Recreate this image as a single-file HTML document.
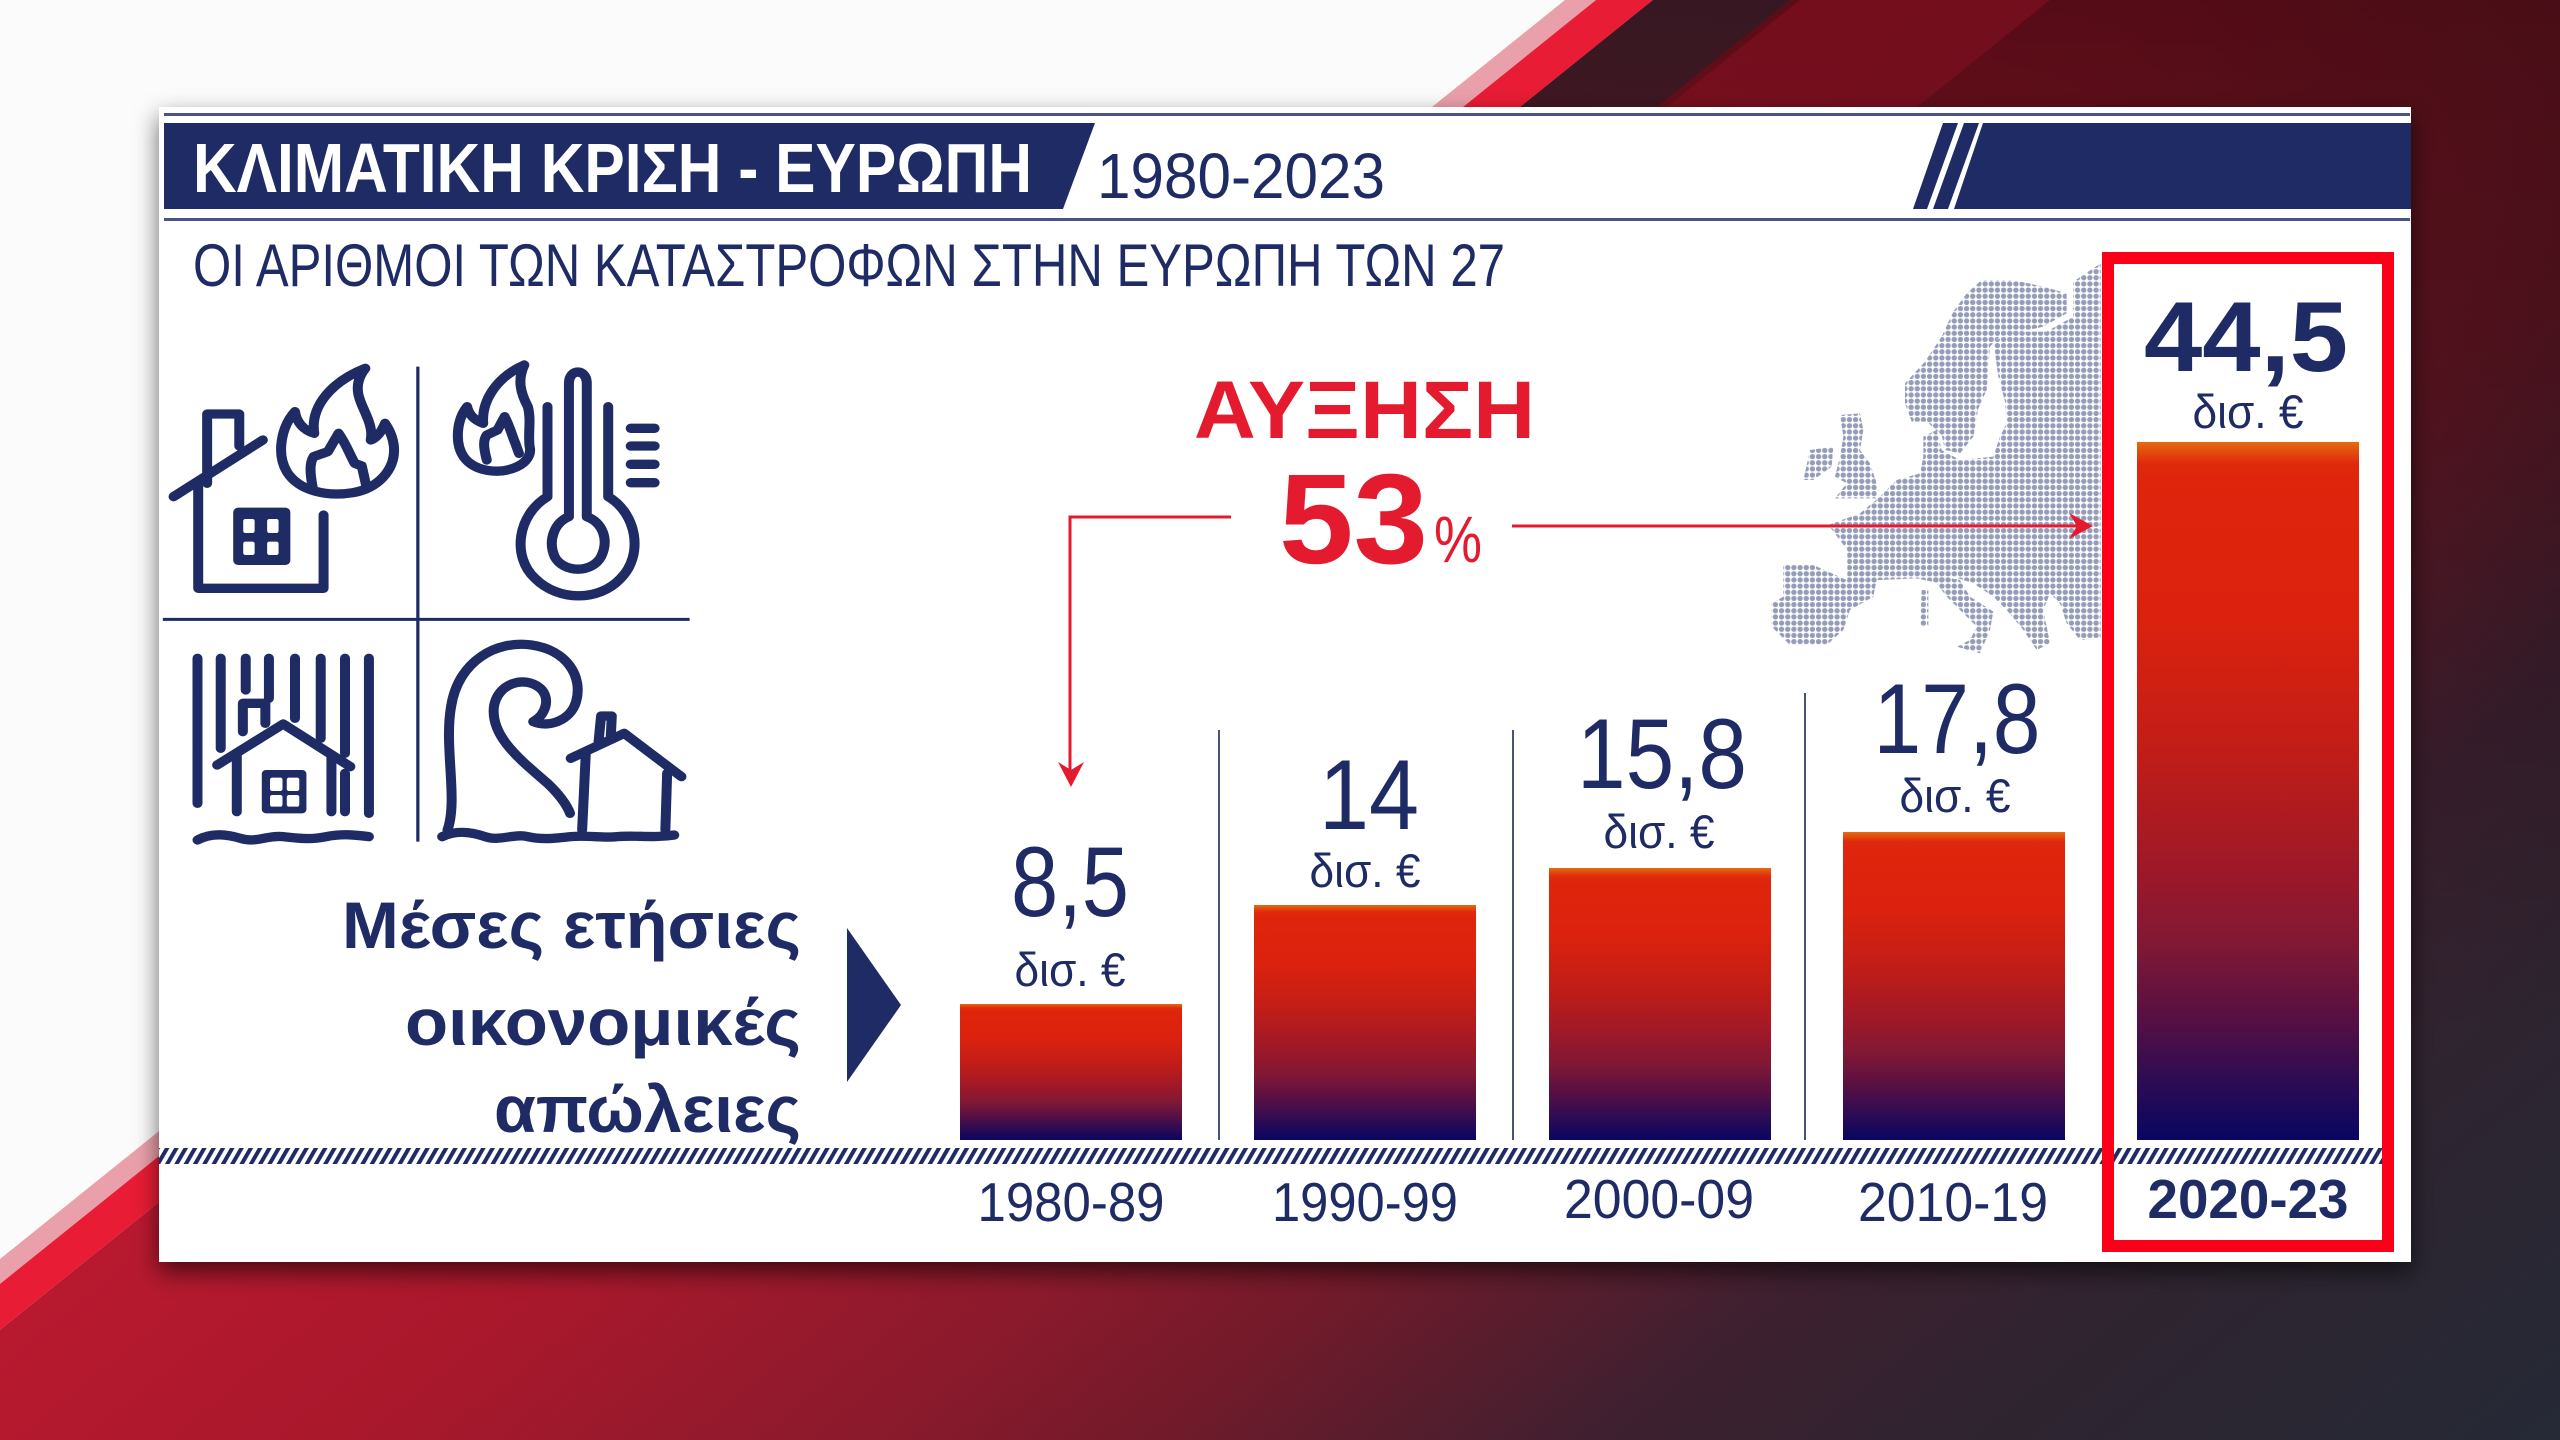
<!DOCTYPE html>
<html><head><meta charset="utf-8">
<style>
html,body{margin:0;padding:0;background:#fafafa;}
svg{display:block;}
text{font-family:"Liberation Sans","DejaVu Sans",sans-serif;}
</style></head>
<body>
<svg width="2560" height="1440" viewBox="0 0 2560 1440" xmlns="http://www.w3.org/2000/svg">
<defs>
  <linearGradient id="bgBase" gradientUnits="userSpaceOnUse" x1="421" y1="-347" x2="2139" y2="1787">
    <stop offset="0" stop-color="#c0192f"/>
    <stop offset="0.38" stop-color="#b8192f"/>
    <stop offset="0.5" stop-color="#a8182c"/>
    <stop offset="0.61" stop-color="#8a1a2c"/>
    <stop offset="0.67" stop-color="#741a2a"/>
    <stop offset="0.777" stop-color="#3e2030"/>
    <stop offset="0.865" stop-color="#2e2430"/>
    <stop offset="1" stop-color="#252a36"/>
  </linearGradient>
  <linearGradient id="bgShade" gradientUnits="userSpaceOnUse" x1="0" y1="0" x2="0" y2="1050">
    <stop offset="0" stop-color="#000" stop-opacity="0.5"/>
    <stop offset="1" stop-color="#000" stop-opacity="0"/>
  </linearGradient>
  <linearGradient id="darkBand" gradientUnits="userSpaceOnUse" x1="0" y1="0" x2="0" y2="800">
    <stop offset="0" stop-color="#2a1c26" stop-opacity="0.75"/>
    <stop offset="1" stop-color="#2a1c26" stop-opacity="0"/>
  </linearGradient>
  <linearGradient id="maroonBand" gradientUnits="userSpaceOnUse" x1="0" y1="0" x2="0" y2="700">
    <stop offset="0" stop-color="#8a0f22" stop-opacity="0.55"/>
    <stop offset="1" stop-color="#8a0f22" stop-opacity="0"/>
  </linearGradient>
  <linearGradient id="barG" x1="0" y1="0" x2="0" y2="1">
    <stop offset="0" stop-color="#e46c10"/>
    <stop offset="0.03" stop-color="#e02a0c"/>
    <stop offset="0.06" stop-color="#df240c"/>
    <stop offset="0.25" stop-color="#dc220e"/>
    <stop offset="0.45" stop-color="#c01d18"/>
    <stop offset="0.62" stop-color="#9c1829"/>
    <stop offset="0.72" stop-color="#801834"/>
    <stop offset="0.82" stop-color="#5a1042"/>
    <stop offset="0.91" stop-color="#300c52"/>
    <stop offset="1" stop-color="#080662"/>
  </linearGradient>
  <pattern id="hatch" patternUnits="userSpaceOnUse" width="9.3" height="40" patternTransform="skewX(-30)">
    <rect x="0" y="0" width="4.6" height="40" fill="#1f2b65"/>
  </pattern>
  <pattern id="dots" patternUnits="userSpaceOnUse" width="18.5" height="18.5">
    <circle cx="9.25" cy="9.25" r="8" fill="#959cb8"/>
  </pattern>
  <filter id="shadow" x="-5%" y="-5%" width="110%" height="115%">
    <feDropShadow dx="0" dy="10" stdDeviation="12" flood-color="#000" flood-opacity="0.6"/>
  </filter>
</defs>

<!-- background -->
<rect x="0" y="0" width="2560" height="1440" fill="#fbfbfb"/>
<polygon points="1653,0 2560,0 2560,1440 -137,1440" fill="url(#bgBase)"/>
<polygon points="1653,0 2560,0 2560,1440 -137,1440" fill="url(#bgShade)"/>
<polygon points="1653,0 1790,0 795,800 658,800" fill="url(#darkBand)"/>
<polygon points="1800,0 2050,0 1180,700 930,700" fill="url(#maroonBand)"/>
<polygon points="1565,0 1596,0 -194,1440 -225,1440" fill="#eaa0aa"/>
<polygon points="1596,0 1653,0 -137,1440 -194,1440" fill="#e81c34"/>

<!-- card -->
<rect x="159" y="107" width="2252" height="1155" fill="#ffffff" filter="url(#shadow)"/>

<!-- header -->
<rect x="164" y="113" width="2246" height="3" fill="#4a5288"/>
<polygon points="164,123 1095,123 1063,209 164,209" fill="#1f2b65"/>
<text x="193" y="192" font-size="70" font-weight="bold" fill="#ffffff" textLength="839" lengthAdjust="spacingAndGlyphs">ΚΛΙΜΑΤΙΚΗ ΚΡΙΣΗ - ΕΥΡΩΠΗ</text>
<text x="1097" y="198" font-size="64" fill="#1f2b65" textLength="288" lengthAdjust="spacingAndGlyphs">1980-2023</text>
<polygon points="1943,123 1958,123 1927,209 1913,209" fill="#1f2b65"/>
<polygon points="1964,123 1979,123 1948,209 1933,209" fill="#1f2b65"/>
<polygon points="1983,123 2411,123 2411,209 1954,209" fill="#1f2b65"/>
<rect x="164" y="218" width="2246" height="3" fill="#4a5288"/>
<text x="193" y="286" font-size="60" fill="#1f2b65" textLength="1312" lengthAdjust="spacingAndGlyphs">ΟΙ ΑΡΙΘΜΟΙ ΤΩΝ ΚΑΤΑΣΤΡΟΦΩΝ ΣΤΗΝ ΕΥΡΩΠΗ ΤΩΝ 27</text>

<!-- icons -->
<g transform="translate(160,340) scale(0.35714,0.33333)" stroke="#1f2b65" stroke-width="28" fill="none" stroke-linecap="round" stroke-linejoin="round">
  <line x1="722" y1="80" x2="722" y2="1505" stroke-width="9" stroke-linecap="butt"/>
  <line x1="8" y1="838" x2="1483" y2="838" stroke-width="9" stroke-linecap="butt"/>
  <!-- icon 1 -->
  <path d="M132,430 L132,222 L222,222 L222,318"/>
  <path d="M38,470 L288,300"/>
  <path d="M107,440 L107,745 L458,745 L458,525"/>
  <rect x="205" y="503" width="160" height="172" rx="14" fill="#1f2b65" stroke="none"/>
  <g fill="#fff" stroke="none">
    <rect x="233" y="537" width="32" height="42" rx="6"/><rect x="300" y="537" width="32" height="42" rx="6"/>
    <rect x="233" y="605" width="32" height="40" rx="6"/><rect x="300" y="605" width="32" height="40" rx="6"/>
  </g>
  <path d="M575,85 C480,125 420,200 432,280 C400,270 382,245 378,215 C340,260 325,340 355,395 C390,455 470,470 540,458 C610,445 660,390 655,320 C652,290 642,268 630,250 C618,280 605,295 590,300 C600,250 560,200 555,160 C550,130 560,105 575,85 Z"/>
  <path d="M428,445 C420,400 418,370 430,350 L470,335 L500,280 C520,310 530,340 545,370 L565,378 L578,440"/>
  <!-- icon 2 -->
  <path d="M1020,75 C945,110 900,180 905,250 C880,240 865,225 860,200 C830,240 825,310 850,350 C880,395 950,405 1000,380 C1030,365 1040,340 1035,320 C1030,280 1040,240 1030,200 C1010,160 1000,120 1020,75 Z"/>
  <path d="M915,360 C905,320 905,300 915,285 L945,270 L965,230 C980,260 985,285 995,310 L1005,340"/>
  <path d="M1085,200 L1085,470 C1000,525 985,650 1050,715 C1115,785 1230,785 1290,715 C1355,645 1335,520 1255,470 L1255,200"/>
  <path d="M1145,530 L1145,130 C1145,85 1195,85 1195,130 L1195,530 C1240,548 1258,600 1235,650 C1210,700 1130,700 1105,650 C1085,600 1105,548 1145,530 Z"/>
  <path d="M1318,265 L1385,265 M1318,318 L1385,318 M1318,373 L1385,373 M1318,428 L1385,428"/>
  <!-- icon 3 -->
  <path d="M105,955 L105,1390 M170,955 L170,1225 M240,955 L240,1050 M305,955 L305,1075 M378,955 L378,1135 M450,955 L450,1195 M518,955 L518,1240 M585,955 L585,1420 M518,1300 L518,1415"/>
  <path d="M232,1175 L232,1090 L295,1090 L295,1150"/>
  <path d="M160,1275 L345,1152 L533,1280"/>
  <path d="M215,1245 L215,1415 M480,1245 L480,1415"/>
  <rect x="285" y="1290" width="125" height="130" rx="12" fill="#1f2b65" stroke="none"/>
  <g fill="#fff" stroke="none">
    <rect x="308" y="1313" width="35" height="40" rx="6"/><rect x="355" y="1313" width="35" height="40" rx="6"/>
    <rect x="308" y="1365" width="35" height="35" rx="6"/><rect x="355" y="1365" width="35" height="35" rx="6"/>
  </g>
  <path d="M105,1500 C140,1480 180,1480 225,1495 C270,1510 300,1485 345,1490 C390,1495 420,1500 465,1490 C510,1480 550,1485 585,1490"/>
  <!-- icon 4 -->
  <path d="M805,1470 C835,1380 795,1220 815,1100 C835,960 945,900 1040,915 C1140,930 1185,1010 1165,1085 C1150,1140 1090,1165 1045,1145 C1080,1125 1095,1075 1065,1045 C1020,1005 945,1030 935,1100 C925,1190 1010,1260 1085,1330 C1115,1360 1140,1395 1148,1420"/>
  <path d="M1228,1205 L1235,1128 L1265,1128 L1262,1195"/>
  <path d="M1150,1255 L1300,1180 L1460,1310"/>
  <path d="M1192,1245 L1182,1470 M1420,1300 L1415,1470"/>
  <path d="M790,1490 C830,1470 870,1475 910,1490 C950,1505 990,1480 1030,1490 C1070,1500 1110,1495 1150,1490 C1200,1485 1240,1495 1280,1490 C1330,1485 1380,1495 1440,1485"/>
</g>

<!-- left caption -->
<g fill="#1f2b65" font-weight="bold" font-size="66" text-anchor="end">
  <text x="801" y="948" textLength="459" lengthAdjust="spacingAndGlyphs">Μέσες ετήσιες</text>
  <text x="801" y="1045" textLength="396" lengthAdjust="spacingAndGlyphs">οικονομικές</text>
  <text x="801" y="1132" textLength="307" lengthAdjust="spacingAndGlyphs">απώλειες</text>
</g>
<polygon points="847,928 901,1005 847,1082" fill="#1f2b65"/>

<!-- europe dot map -->
<g transform="translate(1760,250) scale(0.33333)" fill="url(#dots)">
  <polygon points="700,275 760,245 860,245 940,200 940,95 1022,40 1022,1165 960,1170 920,1120 900,1060 870,1030 850,1080 870,1180 830,1200 790,1140 740,1080 720,1060 700,1040 640,1000 580,980 540,1000 470,985 360,990 262,990 262,900 205,825 300,790 360,740 410,690 480,670 490,620 490,560 530,540 545,600 600,630 700,620 720,560 740,520 735,455 715,380"/>
  <polygon points="665,90 760,90 850,110 920,130 920,190 850,230 720,260 690,290 680,420 655,475 640,560 600,610 555,600 545,555 500,515 455,515 435,460 435,400 495,335 545,260 580,185 620,130"/>
  <polygon points="70,945 160,945 260,990 350,990 340,1040 270,1080 250,1140 200,1185 90,1185 35,1130 35,1060 70,1040"/>
  <polygon points="240,495 300,490 310,540 300,600 330,640 350,700 350,745 225,745 260,700 225,680 240,620 250,560"/>
  <polygon points="130,690 150,600 220,590 215,650 160,690"/>
  <polygon points="520,975 600,990 630,1040 700,1085 690,1140 660,1210 590,1190 630,1170 650,1130 600,1080 560,1040 530,1000"/>
  <polygon points="485,1020 505,1020 505,1130 480,1130"/>
</g>

<!-- annotation -->
<text x="1194" y="438" font-size="82" font-weight="bold" fill="#e41b2f" textLength="341" lengthAdjust="spacingAndGlyphs">ΑΥΞΗΣΗ</text>
<text x="1279" y="563" font-size="128" font-weight="bold" fill="#e41b2f" textLength="149" lengthAdjust="spacingAndGlyphs">53</text>
<text x="1434" y="562" font-size="66" fill="#e41b2f" textLength="48" lengthAdjust="spacingAndGlyphs">%</text>
<polyline points="1231,517 1070,517 1070,772" fill="none" stroke="#e41b2f" stroke-width="3"/>
<polygon points="1058,762 1071,770 1084,762 1071,787" fill="#e41b2f"/>
<line x1="1512" y1="526" x2="2078" y2="526" stroke="#e41b2f" stroke-width="3"/>
<polygon points="2069,513 2077,526 2069,539 2093,526" fill="#e41b2f"/>

<!-- dividers -->
<g stroke="#4a5275" stroke-width="2">
  <line x1="1219" y1="730" x2="1219" y2="1140"/>
  <line x1="1513" y1="730" x2="1513" y2="1140"/>
  <line x1="1805" y1="693" x2="1805" y2="1140"/>
</g>

<!-- bars -->
<rect x="960" y="1004" width="222" height="136" fill="url(#barG)"/>
<rect x="1254" y="905" width="222" height="235" fill="url(#barG)"/>
<rect x="1549" y="868" width="222" height="272" fill="url(#barG)"/>
<rect x="1843" y="832" width="222" height="308" fill="url(#barG)"/>
<rect x="2137" y="442" width="222" height="698" fill="url(#barG)"/>

<!-- hatch baseline -->
<rect x="159" y="1148" width="2224" height="16" fill="url(#hatch)"/>

<!-- values -->
<g fill="#1f2b65" font-size="99" text-anchor="middle">
  <text x="1070" y="916" textLength="118" lengthAdjust="spacingAndGlyphs">8,5</text>
  <text x="1369" y="829" textLength="100" lengthAdjust="spacingAndGlyphs">14</text>
  <text x="1662" y="788" textLength="170" lengthAdjust="spacingAndGlyphs">15,8</text>
  <text x="1957" y="753" textLength="167" lengthAdjust="spacingAndGlyphs">17,8</text>
  <text x="2246" y="371" font-weight="bold" textLength="204" lengthAdjust="spacingAndGlyphs">44,5</text>
</g>
<g fill="#1f2b65" font-size="47" text-anchor="middle">
  <text x="1070" y="986" textLength="111" lengthAdjust="spacingAndGlyphs">δισ. €</text>
  <text x="1365" y="887" textLength="111" lengthAdjust="spacingAndGlyphs">δισ. €</text>
  <text x="1659" y="848" textLength="111" lengthAdjust="spacingAndGlyphs">δισ. €</text>
  <text x="1955" y="812" textLength="111" lengthAdjust="spacingAndGlyphs">δισ. €</text>
  <text x="2248" y="428" textLength="111" lengthAdjust="spacingAndGlyphs">δισ. €</text>
</g>

<!-- year labels -->
<g fill="#1f2b65" font-size="55" text-anchor="middle">
  <text x="1071" y="1221" textLength="187" lengthAdjust="spacingAndGlyphs">1980-89</text>
  <text x="1365" y="1221" textLength="186" lengthAdjust="spacingAndGlyphs">1990-99</text>
  <text x="1659" y="1218" textLength="190" lengthAdjust="spacingAndGlyphs">2000-09</text>
  <text x="1953" y="1221" textLength="190" lengthAdjust="spacingAndGlyphs">2010-19</text>
  <text x="2248" y="1218" font-weight="bold" textLength="201" lengthAdjust="spacingAndGlyphs">2020-23</text>
</g>

<!-- highlight frame -->
<rect x="2108" y="258" width="280" height="988" fill="none" stroke="#fb0019" stroke-width="12"/>
</svg>
</body></html>
